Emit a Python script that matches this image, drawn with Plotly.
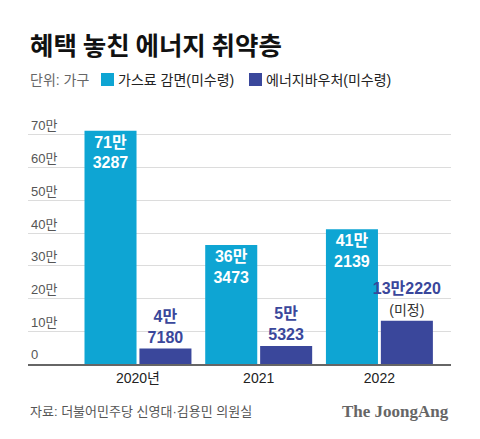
import plotly.graph_objects as go

# 혜택 놓친 에너지 취약층 (단위: 가구)
years = ["2020년", "2021", "2022"]
gas_unclaimed = [713287, 363473, 412139]      # 가스료 감면(미수령)
voucher_unclaimed = [47180, 55323, 132220]    # 에너지바우처(미수령)
voucher_note = ["", "", "(미정)"]
y_ticks = [0, 100000, 200000, 300000, 400000, 500000, 600000, 700000]
y_tick_labels = ["0", "10만", "20만", "30만", "40만", "50만", "60만", "70만"]

CYAN = "#0ea5d3"
NAVY = "#3a479b"
KR = "Liberation Sans, Noto Sans CJK KR, sans-serif"

# plot area in px: x 28..451, y 110..364
PW, PH = 423, 254


def man(v):
    return f"{v // 10000}만", f"{v % 10000}"


gas_text = ["<br>".join(man(v)) for v in gas_unclaimed]
voucher_text = []
for v, note in zip(voucher_unclaimed, voucher_note):
    a, b = man(v)
    if note:
        voucher_text.append(f"<b>{a}{b}</b><br><span style='color:#333333;font-size:14px'>{note}</span>")
    else:
        voucher_text.append(f"<b>{a}<br>{b}</b>")

fig = go.Figure()
fig.add_trace(go.Bar(
    x=years, y=gas_unclaimed, name="가스료 감면(미수령)",
    marker=dict(color=CYAN, line_width=0),
    width=0.431, offset=-0.443,
    text=gas_text, texttemplate="<b>%{text}</b>", textposition="inside",
    insidetextanchor="end", textangle=0, constraintext="none",
    textfont=dict(family=KR, size=16, color="white"),
    hoverinfo="skip",
))
fig.add_trace(go.Bar(
    x=years, y=voucher_unclaimed, name="에너지바우처(미수령)",
    marker=dict(color=NAVY, line_width=0),
    width=0.431, offset=0.012,
    text=voucher_text, textposition="outside", textangle=0,
    constraintext="none", cliponaxis=False,
    textfont=dict(family=KR, size=16, color=NAVY),
    hoverinfo="skip",
))

fig.update_layout(
    width=480, height=439,
    margin=dict(l=28, r=29, t=110, b=75),
    paper_bgcolor="white", plot_bgcolor="white",
    showlegend=False,
    font=dict(family=KR, color="#222222"),
    xaxis=dict(
        range=[-0.911, 2.593], showgrid=False, ticks="",
        showline=True, linecolor="#666666", linewidth=2,
        tickfont=dict(size=14, color="#222222"),
        fixedrange=True,
    ),
    yaxis=dict(
        range=[0, 776400], tickvals=y_ticks, ticktext=y_tick_labels,
        ticklabelposition="inside top", showgrid=True,
        gridcolor="#dcdcdc", gridwidth=1, zeroline=False, ticks="",
        tickfont=dict(size=13, color="#555555"),
        fixedrange=True,
    ),
)

# 제목과 범례
fig.add_annotation(text="<b>혜택 놓친 에너지 취약층</b>", xref="paper", yref="paper",
                   x=0, y=1 + 67 / PH, xanchor="left", yanchor="middle",
                   showarrow=False,
                   font=dict(family="Noto Sans CJK KR", size=25.5, color="#111111", weight=900))
fig.add_annotation(text="단위: 가구", xref="paper", yref="paper",
                   x=0, y=1 + 30 / PH, xanchor="left", yanchor="middle",
                   showarrow=False, font=dict(family=KR, size=14, color="#666666"))
for x0, color, label in [(101, CYAN, "가스료 감면(미수령)"), (249, NAVY, "에너지바우처(미수령)")]:
    fig.add_shape(type="rect", xref="paper", yref="paper",
                  x0=(x0 - 28) / PW, x1=(x0 + 13 - 28) / PW,
                  y0=1 + 24 / PH, y1=1 + 37 / PH,
                  fillcolor=color, line_width=0)
    fig.add_annotation(text=label, xref="paper", yref="paper",
                       x=(x0 + 15 - 28) / PW, y=1 + 30 / PH,
                       xanchor="left", yanchor="middle", showarrow=False,
                       font=dict(family=KR, size=14, color="#222222"))

# 출처
fig.add_annotation(text="자료: 더불어민주당 신영대·김용민 의원실", xref="paper", yref="paper",
                   x=0, y=-47 / PH, xanchor="left", yanchor="middle",
                   showarrow=False, font=dict(family=KR, size=13, color="#555555"))
fig.add_annotation(text="<b>The JoongAng</b>", xref="paper", yref="paper",
                   x=1, y=-47 / PH, xanchor="right", yanchor="middle",
                   showarrow=False,
                   font=dict(family="Liberation Serif, serif", size=17, color="#666666"))

fig.write_html("out.html", config={"displayModeBar": False},
               post_script="document.body.style.margin='0';")
